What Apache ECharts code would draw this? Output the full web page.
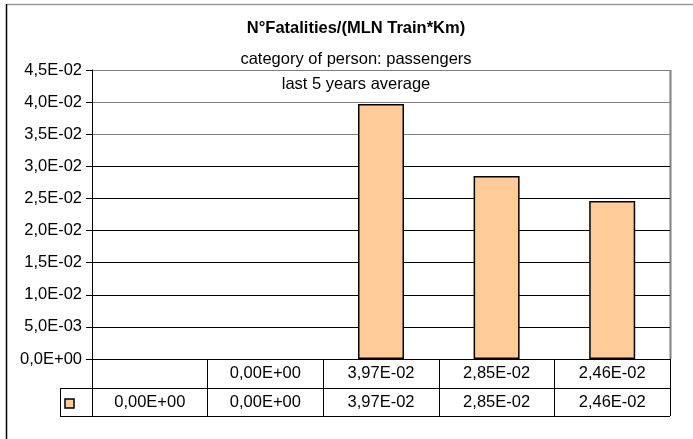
<!DOCTYPE html>
<html>
<head>
<meta charset="utf-8">
<script src="https://cdn.jsdelivr.net/npm/echarts@6/dist/echarts.min.js"></script>
<style>html,body{margin:0;padding:0;background:#fff}#c{width:693px;height:439px}</style>
</head>
<body>
<div id="c"></div>
<script>
var categories = ["", "0,00E+00", "3,97E-02", "2,85E-02", "2,46E-02"];
var values = [0, 0, 0.0397, 0.0285, 0.0246];
var yMin = 0, yMax = 0.045, yStep = 0.005;
var titleText = "N°Fatalities/(MLN Train*Km)";
var subText1 = "category of person: passengers";
var subText2 = "last 5 years average";

function sci(v, d) {
  var s = v.toExponential(d).split('e');
  var m = s[0].replace('.', ',');
  var e = parseInt(s[1], 10);
  var sign = e < 0 ? '-' : '+';
  var a = Math.abs(e);
  return m + 'E' + sign + (a < 10 ? '0' + a : '' + a);
}
var rowLabels = values.map(function (v) { return sci(v, 2); });
var barData = values.map(function (v) {
  return v === 0 ? { value: v, itemStyle: { borderWidth: 0 } } : v;
});

var FONT = '"Liberation Sans", Arial, sans-serif';
var L = 92, R = 670, T = 70, B = 359;
var chart = echarts.init(document.getElementById('c'));
chart.setOption({
  animation: false,
  backgroundColor: '#fff',
  textStyle: { fontFamily: FONT },
  grid: { left: L, right: 693 - R, top: T, bottom: 439 - B, containLabel: false },
  xAxis: [{
    type: 'category', data: categories, position: 'bottom',
    axisLine: { show: true, lineStyle: { color: '#000', width: 1 } },
    axisTick: { show: true, interval: 0, length: 57, lineStyle: { color: '#000' } },
    axisLabel: { interval: 0, margin: 6, fontSize: 16.5, color: '#000', fontFamily: FONT }
  }, {
    type: 'category', data: rowLabels, position: 'bottom', offset: 29,
    axisLine: { show: false }, axisTick: { show: false },
    axisLabel: { interval: 0, margin: 6, fontSize: 16.5, color: '#000', fontFamily: FONT }
  }],
  yAxis: {
    type: 'value', min: yMin, max: yMax, interval: yStep,
    axisLine: { show: true, lineStyle: { color: '#000' } },
    axisTick: { show: true, length: 6, lineStyle: { color: '#000' } },
    axisLabel: { margin: 10, fontSize: 16.5, color: '#000', fontFamily: FONT,
      formatter: function (v) { return sci(v, 1); } },
    splitLine: { show: true, lineStyle: { width: 1,
      color: ['#000', '#000', '#000', '#000', '#000', '#000', '#000', '#808080', '#808080', '#808080'] } }
  },
  series: [{
    type: 'bar', data: barData, barWidth: 46, xAxisIndex: 0,
    itemStyle: { color: '#FFCC99', borderColor: '#000', borderWidth: 1.5 }
  }],
  graphic: [
    { type: 'line', shape: { x1: 7, y1: 4.5, x2: 693, y2: 4.5 }, style: { stroke: '#999', lineWidth: 1.5 } },
    { type: 'line', shape: { x1: 6.5, y1: 4, x2: 6.5, y2: 439 }, style: { stroke: '#000', lineWidth: 1.5 } },
    { type: 'line', shape: { x1: R + 0.5, y1: T, x2: R + 0.5, y2: B }, style: { stroke: '#808080', lineWidth: 2 } },
    { type: 'line', shape: { x1: 60, y1: 388.5, x2: R, y2: 388.5 }, style: { stroke: '#000', lineWidth: 1 } },
    { type: 'line', shape: { x1: 60, y1: 416.5, x2: R, y2: 416.5 }, style: { stroke: '#000', lineWidth: 1 } },
    { type: 'line', shape: { x1: 60.5, y1: 388, x2: 60.5, y2: 417 }, style: { stroke: '#000', lineWidth: 1 } },
    { type: 'rect', shape: { x: 65, y: 399, width: 9, height: 9 }, style: { fill: '#FFCC99', stroke: '#000', lineWidth: 1.5 } },
    { type: 'text', x: 356, y: 20, style: { text: titleText, font: 'bold 16.5px ' + FONT, fill: '#000', textAlign: 'center' } },
    { type: 'text', x: 356, y: 51, style: { text: subText1, font: '16.5px ' + FONT, fill: '#000', textAlign: 'center' } },
    { type: 'text', x: 356, y: 76, style: { text: subText2, font: '16.5px ' + FONT, fill: '#000', textAlign: 'center' } }
  ]
});
</script>
</body>
</html>
